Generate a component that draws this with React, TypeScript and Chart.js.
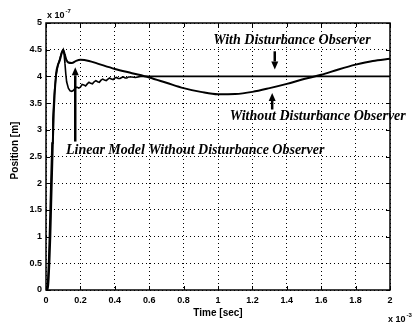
import React, { useEffect, useRef } from "react";
import { Chart, registerables } from "chart.js";
Chart.register(...registerables);

// Time in units of 1e-3 s, position in units of 1e-7 m
const timeWithout = [0, 0.01, 0.015, 0.02, 0.025, 0.03, 0.035, 0.04, 0.045, 0.05, 0.055, 0.06, 0.07, 0.08, 0.09, 0.1, 0.11, 0.12, 0.13, 0.15, 0.175, 0.2, 0.25, 0.3, 0.4, 0.5, 0.6, 0.7, 0.8, 0.9, 1.0, 1.1, 1.2, 1.3, 1.4, 1.5, 1.6, 1.7, 1.8, 1.9, 2.0];
const posWithout = [0, 0.03, 0.2, 0.55, 1.0, 1.6, 2.2, 2.8, 3.3, 3.65, 3.9, 4.08, 4.22, 4.3, 4.42, 4.5, 4.4, 4.3, 4.26, 4.25, 4.29, 4.31, 4.29, 4.24, 4.14, 4.06, 3.98, 3.88, 3.78, 3.71, 3.665, 3.67, 3.71, 3.78, 3.86, 3.95, 4.03, 4.13, 4.22, 4.29, 4.33];

const timeWith = [0, 0.005, 0.01, 0.015, 0.02, 0.025, 0.03, 0.035, 0.04, 0.045, 0.05, 0.06, 0.07, 0.08, 0.09, 0.1, 0.105, 0.11, 0.115, 0.12, 0.13, 0.14, 0.15, 0.16, 0.17, 0.18, 0.19, 0.2, 0.21, 0.22, 0.23, 0.24, 0.25, 0.26, 0.27, 0.28, 0.29, 0.3, 0.31, 0.32, 0.33, 0.34, 0.35, 0.36, 0.37, 0.38, 0.39, 0.4, 0.41, 0.42, 0.43, 0.44, 0.45, 0.46, 0.47, 0.48, 0.5, 0.52, 0.55, 0.6, 0.8, 1.0, 1.2, 1.4, 1.6, 1.8, 2.0];
const posWith = [0, 0.02, 0.15, 0.5, 1.0, 1.6, 2.2, 2.75, 3.2, 3.5, 3.75, 4.05, 4.22, 4.32, 4.44, 4.5, 4.42, 4.25, 4.05, 3.9, 3.78, 3.73, 3.72, 3.74, 3.78, 3.8, 3.78, 3.8, 3.85, 3.84, 3.82, 3.86, 3.89, 3.87, 3.86, 3.9, 3.92, 3.9, 3.89, 3.93, 3.95, 3.93, 3.92, 3.95, 3.97, 3.95, 3.94, 3.97, 3.98, 3.96, 3.96, 3.98, 3.99, 3.97, 3.97, 3.99, 3.99, 3.98, 4.0, 4.0, 4.0, 4.0, 4.0, 4.0, 4.0, 4.0, 4.0];

const xMin = 0, xMax = 2, xStep = 0.2;
const yMin = 0, yMax = 5, yStep = 0.5;

const labelWith = "With Disturbance Observer";
const labelWithout = "Without Disturbance Observer";
const labelLinear = "Linear Model Without Disturbance Observer";
const xTitle = "Time [sec]";
const yTitle = "Position [m]";

const fmt = (v: number) => String(Math.round(v * 10) / 10);

function arrow(ctx: CanvasRenderingContext2D, x: number, yTail: number, yTip: number) {
  const dir = yTip > yTail ? 1 : -1;
  const headLen = 8;
  ctx.save();
  ctx.strokeStyle = "#000";
  ctx.fillStyle = "#000";
  ctx.lineWidth = 2.5;
  ctx.beginPath();
  ctx.moveTo(x, yTail);
  ctx.lineTo(x, yTip - dir * headLen);
  ctx.stroke();
  ctx.beginPath();
  ctx.moveTo(x, yTip);
  ctx.lineTo(x - 3.5, yTip - dir * headLen);
  ctx.lineTo(x + 3.5, yTip - dir * headLen);
  ctx.closePath();
  ctx.fill();
  ctx.restore();
}

const decorPlugin = {
  id: "decor",
  beforeDraw(chart: any) {
    const ctx = chart.ctx;
    ctx.save();
    ctx.fillStyle = "#fff";
    ctx.fillRect(0, 0, chart.width, chart.height);
    ctx.restore();
  },
  afterDraw(chart: any) {
    const ctx: CanvasRenderingContext2D = chart.ctx;
    const { left, right, top, bottom } = chart.chartArea;
    const xs = chart.scales.x;
    const ys = chart.scales.y;
    ctx.save();
    // box
    ctx.strokeStyle = "#000";
    ctx.lineWidth = 1.5;
    ctx.strokeRect(left, top, right - left, bottom - top);
    // inward ticks
    ctx.lineWidth = 1;
    const tl = 4;
    for (let v = xMin; v <= xMax + 1e-9; v += xStep) {
      const px = Math.round(xs.getPixelForValue(v)) + 0.5;
      ctx.beginPath();
      ctx.moveTo(px, bottom); ctx.lineTo(px, bottom - tl);
      ctx.moveTo(px, top); ctx.lineTo(px, top + tl);
      ctx.stroke();
    }
    for (let v = yMin; v <= yMax + 1e-9; v += yStep) {
      const py = Math.round(ys.getPixelForValue(v)) + 0.5;
      ctx.beginPath();
      ctx.moveTo(left, py); ctx.lineTo(left + tl, py);
      ctx.moveTo(right, py); ctx.lineTo(right - tl, py);
      ctx.stroke();
    }
    // exponent labels
    ctx.fillStyle = "#000";
    ctx.textBaseline = "alphabetic";
    ctx.textAlign = "left";
    ctx.font = "bold 9px 'Liberation Sans', Arial, sans-serif";
    ctx.fillText("x 10", left + 1, top - 5);
    let w = ctx.measureText("x 10").width;
    ctx.font = "bold 6px 'Liberation Sans', Arial, sans-serif";
    ctx.fillText("-7", left + 1 + w + 1, top - 10);
    ctx.font = "bold 9px 'Liberation Sans', Arial, sans-serif";
    ctx.fillText("x 10", right - 2, bottom + 32);
    w = ctx.measureText("x 10").width;
    ctx.font = "bold 6px 'Liberation Sans', Arial, sans-serif";
    ctx.fillText("-3", right - 2 + w + 1, bottom + 27);
    // axis titles
    ctx.font = "bold 10px 'Liberation Sans', Arial, sans-serif";
    ctx.textAlign = "center";
    ctx.textBaseline = "middle";
    ctx.fillText(xTitle, (left + right) / 2, bottom + 23);
    ctx.save();
    ctx.translate(15, (top + bottom) / 2 - 6);
    ctx.rotate(-Math.PI / 2);
    ctx.fillText(yTitle, 0, 0);
    ctx.restore();
    // annotations
    ctx.font = "italic bold 14px 'Liberation Serif', 'DejaVu Serif', serif";
    ctx.textBaseline = "middle";
    ctx.textAlign = "center";
    ctx.fillText(labelWith, xs.getPixelForValue(1.43), ys.getPixelForValue(4.68));
    arrow(ctx, xs.getPixelForValue(1.33), ys.getPixelForValue(4.47), ys.getPixelForValue(4.13));
    ctx.fillText(labelWithout, xs.getPixelForValue(1.58), ys.getPixelForValue(3.25));
    arrow(ctx, xs.getPixelForValue(1.315), ys.getPixelForValue(3.38), ys.getPixelForValue(3.69));
    ctx.textAlign = "left";
    ctx.fillText(labelLinear, xs.getPixelForValue(0.116), ys.getPixelForValue(2.61));
    arrow(ctx, xs.getPixelForValue(0.17), ys.getPixelForValue(2.78), ys.getPixelForValue(4.17));
    ctx.restore();
  },
};

export default function App() {
  const ref = useRef<HTMLCanvasElement | null>(null);
  useEffect(() => {
    if (!ref.current) return;
    const chart = new Chart(ref.current, {
      type: "line",
      data: {
        datasets: [
          {
            label: labelWithout,
            data: timeWithout.map((t, i) => ({ x: t, y: posWithout[i] })),
            borderColor: "#000",
            borderWidth: 2,
            pointRadius: 0,
            tension: 0.4,
            cubicInterpolationMode: "monotone",
          },
          {
            label: labelWith,
            data: timeWith.map((t, i) => ({ x: t, y: posWith[i] })),
            borderColor: "#000",
            borderWidth: 1.6,
            pointRadius: 0,
            tension: 0,
          },
        ],
      },
      options: {
        responsive: false,
        animation: false,
        events: [],
        layout: { padding: { top: 23, right: 25, left: 0, bottom: 0 } },
        plugins: { legend: { display: false }, tooltip: { enabled: false } },
        scales: {
          x: {
            type: "linear",
            min: xMin,
            max: xMax,
            afterFit: (s: any) => { s.height = 34; },
            ticks: {
              stepSize: xStep,
              color: "#000",
              padding: 5,
              maxRotation: 0,
              autoSkip: false,
              font: { family: "'Liberation Sans', Arial, sans-serif", size: 9, weight: "bold" },
              callback: (v: any) => fmt(Number(v)),
            },
            grid: { color: "#000", lineWidth: 1, drawTicks: false },
            border: { display: false, dash: [1, 3] },
          },
          y: {
            type: "linear",
            min: yMin,
            max: yMax,
            afterFit: (s: any) => { s.width = 46; },
            ticks: {
              stepSize: yStep,
              color: "#000",
              padding: 4,
              autoSkip: false,
              font: { family: "'Liberation Sans', Arial, sans-serif", size: 9, weight: "bold" },
              callback: (v: any) => fmt(Number(v)),
            },
            grid: { color: "#000", lineWidth: 1, drawTicks: false },
            border: { display: false, dash: [1, 3] },
          },
        },
      },
      plugins: [decorPlugin],
    } as any);
    return () => chart.destroy();
  }, []);
  return (
    <div style={{ position: "fixed", left: 0, top: 0, width: 415, height: 324, background: "#fff" }}>
      <canvas ref={ref} width={415} height={324} style={{ display: "block" }} />
    </div>
  );
}
